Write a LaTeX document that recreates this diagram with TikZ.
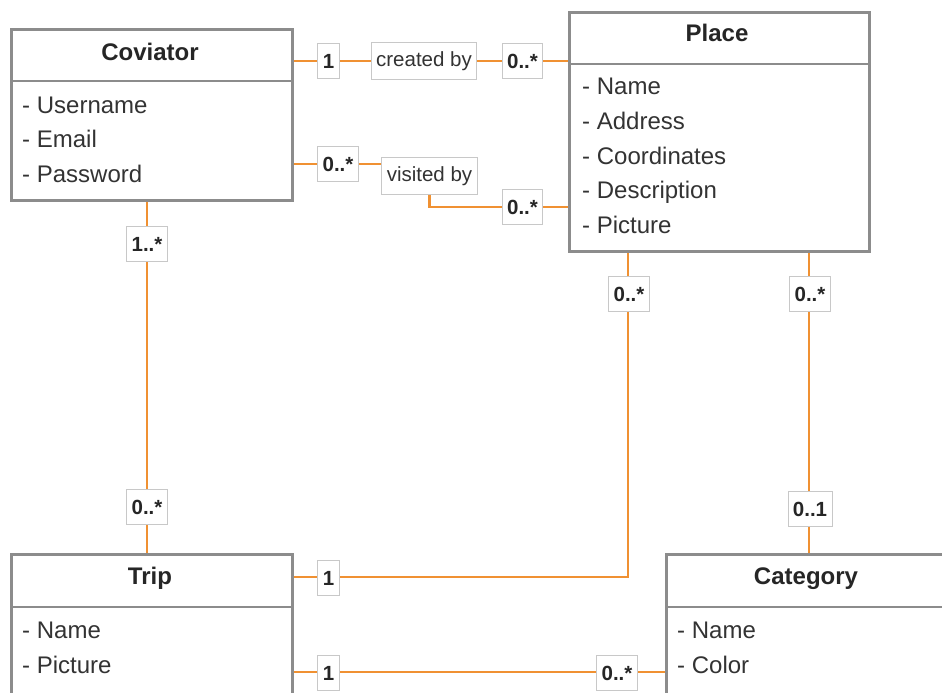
\documentclass[tikz,border=0pt]{standalone}
\usepackage{fontspec}
\setmainfont{Liberation Sans}
\usetikzlibrary{calc}
\definecolor{boxgray}{RGB}{140,140,140}
\definecolor{lblgray}{RGB}{200,200,200}
\definecolor{conncol}{RGB}{240,145,50}
\definecolor{txtcol}{RGB}{51,51,51}
\tikzset{
  umlbox/.style={draw=boxgray, line width=2.6pt, fill=white, anchor=north west, inner sep=0pt},
  sepline/.style={draw=boxgray, line width=2.6pt},
  conn/.style={draw=conncol, line width=2.8pt},
  title/.style={anchor=base, font=\fontsize{24}{28}\selectfont\bfseries, text=black!85, inner sep=0pt},
  attr/.style={anchor=base west, font=\fontsize{24}{28}\selectfont, text=txtcol, inner sep=0pt},
  mult/.style={draw=lblgray, line width=0.8pt, fill=white, font=\fontsize{20.5}{24}\selectfont\bfseries, text=black!85, inner xsep=5pt, inner ysep=0pt, minimum height=35pt},
  role/.style={draw=lblgray, line width=0.8pt, fill=white, font=\fontsize{20.5}{24}\selectfont, text=txtcol, inner xsep=5pt, inner ysep=0pt, minimum height=37pt}
}
\begin{document}
\begin{tikzpicture}[x=1pt,y=-1pt]
\useasboundingbox (0,0) rectangle (942,693);
\clip (0,0) rectangle (942,693);
% boxes
\node[umlbox, minimum width=281pt, minimum height=171pt] (cov) at (10,28) {};
\node[umlbox, minimum width=300pt, minimum height=239pt] (place) at (568,11) {};
\node[umlbox, minimum width=281pt, minimum height=200pt] (trip) at (10,553) {};
\node[umlbox, minimum width=282pt, minimum height=200pt] (cat) at (665,553) {};
% separators
\draw[sepline] ($(cov.north west)+(0,53)$) -- ($(cov.north east)+(0,53)$);
\draw[sepline] ($(place.north west)+(0,53)$) -- ($(place.north east)+(0,53)$);
\draw[sepline] ($(trip.north west)+(0,54)$) -- ($(trip.north east)+(0,54)$);
\draw[sepline] ($(cat.north west)+(0,54)$) -- ($(cat.north east)+(0,54)$);
% titles
\node[title] (covT) at (150,60) {Coviator};
\node[title] (placeT) at (717,42) {Place};
\node[title] (tripT) at (150,584) {Trip};
\node[title] (catT) at (806,584) {Category};
% attributes
\node[attr] (c1) at (22,113) {- Username};
\node[attr] (c2) at (22,147.5) {- Email};
\node[attr] (c3) at (22,182) {- Password};
\node[attr] (p1) at (582,95) {- Name};
\node[attr] (p2) at (582,129.5) {- Address};
\node[attr] (p3) at (582,164) {- Coordinates};
\node[attr] (p4) at (582,198.5) {- Description};
\node[attr] (p5) at (582,233) {- Picture};
\node[attr] (t1) at (22,638) {- Name};
\node[attr] (t2) at (22,673) {- Picture};
\node[attr] (k1) at (677,638) {- Name};
\node[attr] (k2) at (677,673) {- Color};
% role labels (positions needed for connectors)
\node[role] (created) at (424,61) {created by};
\node[role] (visited) at (429.5,176) {visited by};
% connectors
\coordinate (a1) at ($(cov.north east)+(0,33)$);
\draw[conn] (a1) -- (a1 -| place.west);
\coordinate (a2) at ($(cov.north east)+(0,136)$);
\draw[conn] (a2) -- (a2 -| visited.west);
\coordinate (a3) at ($(place.north west)+(0,196)$);
\draw[conn] (visited.south) |- (a3);
\coordinate (a4) at ($(cov.south west)+(137,0)$);
\draw[conn] (a4) -- (a4 |- trip.north);
\coordinate (a5) at ($(place.south west)+(60,0)$);
\coordinate (a6) at ($(trip.north east)+(0,24)$);
\draw[conn] (a5) |- (a6);
\coordinate (a7) at ($(place.south west)+(241,0)$);
\draw[conn] (a7) -- (a7 |- cat.north);
\coordinate (a8) at ($(trip.north east)+(0,119)$);
\draw[conn] (a8) -- (a8 -| cat.west);
% redraw role labels on top
\node[role] at (created) {created by};
\node[role] at (visited) {visited by};
% multiplicities
\node[mult] (m1) at (328.5,61) {1};
\node[mult] (m2) at (522.5,61) {0..*};
\node[mult] (m3) at (338,164) {0..*};
\node[mult] (m4) at (522.5,207) {0..*};
\node[mult] (m5) at (147,244) {1..*};
\node[mult] (m6) at (147,507) {0..*};
\node[mult] (m7) at (629,294) {0..*};
\node[mult] (m8) at (810,294) {0..*};
\node[mult] (m9) at (810,509) {0..1};
\node[mult] (m10) at (328.5,578) {1};
\node[mult] (m11) at (328.5,673) {1};
\node[mult] (m12) at (617,673) {0..*};
\end{tikzpicture}
\end{document}
